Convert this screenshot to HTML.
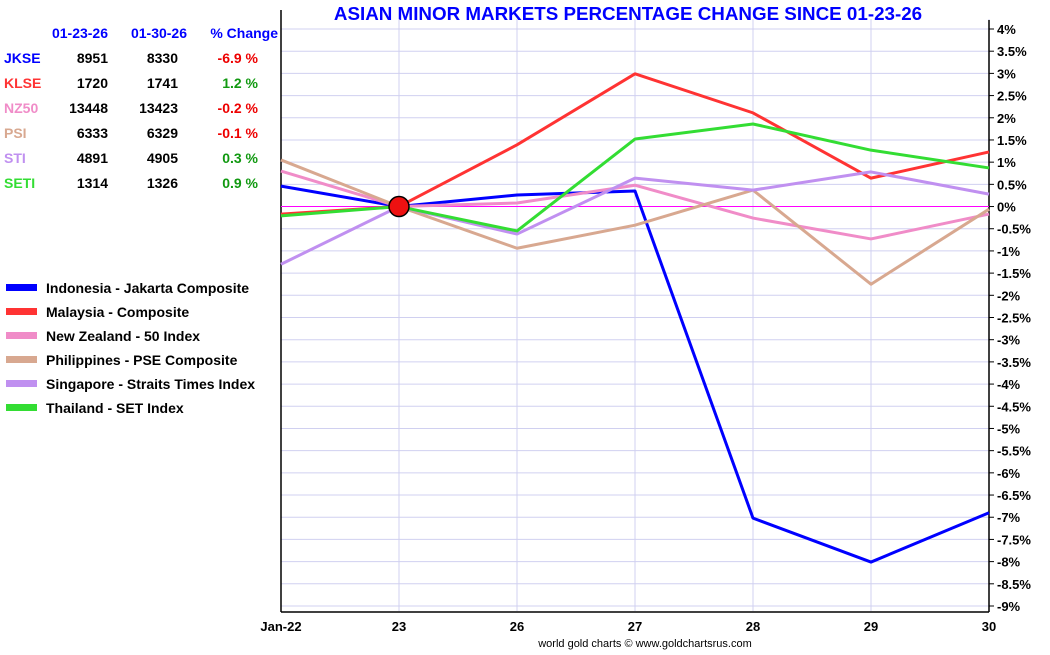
<!DOCTYPE html>
<html><head><meta charset="utf-8"><style>
body{margin:0;background:#fff;font-family:"Liberation Sans",Arial,sans-serif}
svg text{font-family:"Liberation Sans",Arial,sans-serif}
</style></head><body>
<svg id="c" width="1050" height="650" xmlns="http://www.w3.org/2000/svg"></svg>
<script>
const categories=["Jan-22","23","26","27","28","29","30"];
const names=["Indonesia - Jakarta Composite","Malaysia - Composite","New Zealand - 50 Index","Philippines - PSE Composite","Singapore - Straits Times Index","Thailand - SET Index"];
const tickers=["JKSE","KLSE","NZ50","PSI","STI","SETI"];
const colors=["#0000ff","#ff3333","#f08cc8","#d8a890","#c090f0","#33dd33"];
const jkse=[0.46,0,0.26,0.35,-7.02,-8.01,-6.9];
const klse=[-0.17,0,1.39,2.99,2.11,0.64,1.23];
const nz50=[0.8,0,0.08,0.48,-0.26,-0.73,-0.17];
const psi=[1.05,0,-0.94,-0.42,0.37,-1.75,-0.06];
const sti=[-1.3,0,-0.62,0.64,0.37,0.78,0.28];
const seti=[-0.21,0,-0.55,1.52,1.86,1.27,0.87];
const startVals=["8951","1720","13448","6333","4891","1314"];
const endVals=["8330","1741","13423","6329","4905","1326"];
const changes=["-6.9 %","1.2 %","-0.2 %","-0.1 %","0.3 %","0.9 %"];
const series=[jkse,klse,nz50,psi,sti,seti];
const yMin=-9,yMax=4;
const L=281,R=989,T=29,B=606;
const xs=i=>L+(R-L)*i/(categories.length-1);
const ys=v=>T+(yMax-v)/(yMax-yMin)*(B-T);
const s=document.getElementById('c');
function el(t,a,txt){const e=document.createElementNS('http://www.w3.org/2000/svg',t);for(const k in a)e.setAttribute(k,a[k]);if(txt!==undefined)e.textContent=txt;s.appendChild(e);return e;}
let e;
e=el('text',{x:628,y:20,'text-anchor':'middle','font-size':18.8,'font-weight':'bold',fill:'#0000ff'},'ASIAN MINOR MARKETS PERCENTAGE CHANGE SINCE 01-23-26');


for(let v=yMin;v<=yMax+1e-9;v+=0.5){
 const y=ys(v);
 e=el('line',{x1:L,x2:R,y1:y,y2:y,stroke:'#d0d0f0','stroke-width':1});
 
 
 el('line',{x1:R,x2:R+5,y1:y,y2:y,stroke:'#000'});
 const lab=(Math.round(v*10)/10)+'%';
 e=el('text',{x:R+8,y:y+5,'font-size':13,'font-weight':'bold',fill:'#000'},lab);
 
 
}
categories.forEach((c,i)=>{
 const x=xs(i);
 e=el('line',{x1:x,x2:x,y1:T-10,y2:B+5,stroke:'#d0d0f0'});
 
 
 e=el('text',{x:x,y:631,'text-anchor':'middle','font-size':13,'font-weight':'bold',fill:'#000'},c);
 
 
});
el('line',{x1:L,x2:L,y1:10,y2:612,stroke:'#000','stroke-width':1.5});
el('line',{x1:R,x2:R,y1:20,y2:612,stroke:'#000','stroke-width':1.5});
el('line',{x1:L,x2:R,y1:612,y2:612,stroke:'#000','stroke-width':1.5});
e=el('line',{x1:L,x2:R,y1:ys(0),y2:ys(0),stroke:'#ff00ff','stroke-width':1});


series.forEach((d,k)=>{
 e=el('polyline',{points:d.map((v,i)=>xs(i)+','+ys(v)).join(' '),fill:'none',stroke:colors[k],'stroke-width':3,'stroke-linejoin':'round'});
 
 
});
e=el('circle',{cx:xs(1),cy:ys(0),r:10,fill:'#ee1111',stroke:'#000','stroke-width':1.5});


[["01-23-26",108],["01-30-26",187],["% Change",278]].forEach(h=>{
 e=el('text',{x:h[1],y:38,'text-anchor':'end','font-size':14,'font-weight':'bold',fill:'#0000ff'},h[0]);
 
 
});
tickers.forEach((t,k)=>{
 const y=63+k*25;
 e=el('text',{x:4,y:y,'font-size':14,'font-weight':'bold',fill:colors[k]},t);
 
 
 e=el('text',{x:108,y:y,'text-anchor':'end','font-size':14,'font-weight':'bold',fill:'#000'},startVals[k]);
 
 
 e=el('text',{x:178,y:y,'text-anchor':'end','font-size':14,'font-weight':'bold',fill:'#000'},endVals[k]);
 
 
 e=el('text',{x:258,y:y,'text-anchor':'end','font-size':14,'font-weight':'bold',fill:changes[k][0]=='-'?'#ee0000':'#119911'},changes[k]);
 
 
});
names.forEach((n,k)=>{
 const y=288+k*24;
 e=el('rect',{x:6,y:y-4,width:31,height:7,fill:colors[k]});
 
 
 e=el('text',{x:46,y:y+5,'font-size':14,'font-weight':'bold',fill:'#000'},n);
 
 
});
e=el('text',{x:645,y:647,'text-anchor':'middle','font-size':11,fill:'#000'},'world gold charts © www.goldchartsrus.com');


</script>
</body></html>
